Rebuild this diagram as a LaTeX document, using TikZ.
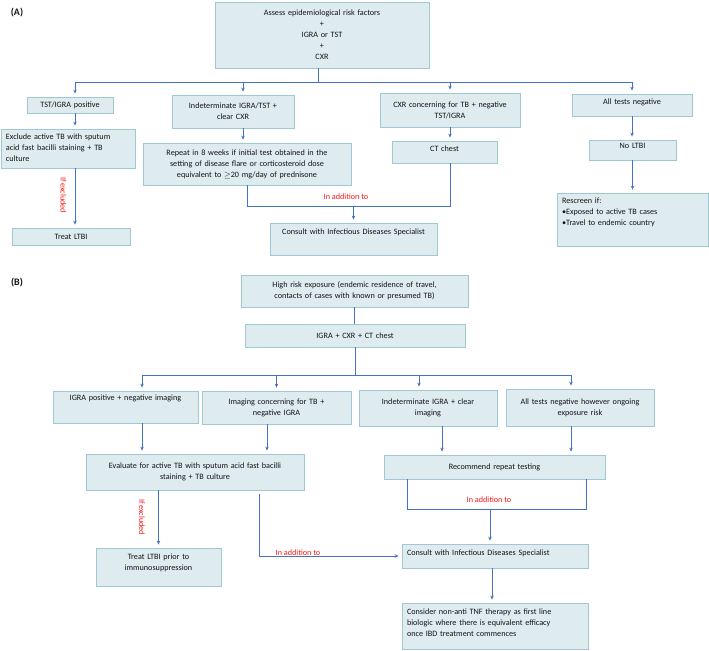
\documentclass[tikz,border=0pt]{standalone}
\usepackage{fontspec}
\setmainfont{Carlito}
\usepackage{tikz}
\usetikzlibrary{arrows.meta, positioning}
\definecolor{boxfill}{RGB}{222,235,239}
\definecolor{boxline}{RGB}{160,200,212}
\definecolor{linkblue}{RGB}{68,114,196}
\definecolor{notered}{RGB}{250,20,20}
\tikzset{
    box/.style={rectangle, draw=boxline, line width=0.8bp, fill=boxfill, align=center, inner xsep=5bp, inner ysep=2bp, text=black!92, font=\fontsize{8.2}{11}\selectfont},
    topbox/.style 2 args={box, text height=#1, text depth=#2},
    line/.style={linkblue, line width=0.9bp},
    arrow/.style={line, -{Stealth[length=4bp,width=3.5bp]}, shorten >=3bp},
    note/.style={text=notered, font=\fontsize{8.2}{9}\selectfont, inner sep=1bp},
    panel/.style={font=\fontsize{10}{12}\selectfont\bfseries, text=black!92},
}

\begin{document}
\begin{tikzpicture}[x=1bp,y=-1bp]
  \useasboundingbox (0,0) rectangle (709,651);

  % (A)
  \node[panel] (labA) at (17,13) {(A)};
  \node[box, text width=204bp, minimum height=66bp] (assess) at (322,35) {Assess epidemiological risk factors\\+\\IGRA or TST\\+\\CXR};
  \node[box, text width=76bp, minimum height=16bp] (pos) at (70,105) {TST/IGRA positive};
  \node[box, text width=112bp, minimum height=33bp] (indet) at (233,111.5) {Indeterminate IGRA/TST +\\clear CXR};
  \node[box, text width=130bp, minimum height=34bp] (cxr) at (450,110) {CXR concerning for TB + negative\\TST/IGRA};
  \node[topbox={8.5bp}{9.5bp}, text width=110bp] (allneg) at (632,105) {All tests negative};
  \node[topbox={8.5bp}{26.5bp}, text width=124bp, align=left] (exclude) at (68,148.5) {Exclude active TB with sputum\\acid fast bacilli staining + TB\\culture};
  \node[box, text width=198bp, minimum height=42bp] (repeat) at (247,164) {Repeat in 8 weeks if initial test obtained in the\\setting of disease flare or corticosteroid dose\\equivalent to $\geq$20 mg/day of prednisone};
  \node[topbox={8.5bp}{9.5bp}, text width=95bp] (ct) at (444.5,152) {CT chest};
  \node[topbox={6.5bp}{9.5bp}, text width=77bp] (noltbi) at (632.5,150) {No LTBI};
  \node[box, text width=108bp, minimum height=17bp] (treat) at (71,236.5) {Treat LTBI};
  \node[topbox={9.5bp}{18.5bp}, text width=157bp] (consultA) at (353.5,239) {Consult with Infectious Diseases Specialist};
  \node[topbox={8.5bp}{40.5bp}, text width=141bp, align=left] (rescreen) at (632.5,219.5) {Rescreen if:\\\textbullet Exposed to active TB cases\\\textbullet Travel to endemic country};
  \node[note, rotate=-90] (ifexA) at (63.5,195) {If excluded};
  \node[note] (addA) at (346,197) {In addition to};

  \coordinate (busA) at (318,82);
  \coordinate (dropP) at ([xshift=5bp]pos.north);
  \coordinate (dropI) at ([xshift=10bp]indet.north);
  \draw[line] (assess.south -| busA) -- (busA);
  \draw[line] (busA -| dropP) -- (busA -| allneg.north);
  \draw[arrow] (busA -| dropP) -- (dropP);
  \draw[arrow] (busA -| dropI) -- (dropI);
  \draw[arrow] (busA -| cxr.north) -- (cxr.north);
  \draw[arrow] (busA -| allneg.north) -- (allneg.north);
  \draw[arrow] (dropP |- pos.south) -- (dropP |- exclude.north);
  \draw[arrow] (dropI |- indet.south) -- (dropI |- repeat.north);
  \draw[arrow] (cxr.south) -- (cxr.south |- ct.north);
  \draw[arrow] (allneg.south) -- (allneg.south |- noltbi.north);
  \draw[arrow] (noltbi.south) -- (rescreen.north);
  \draw[arrow] (dropP |- exclude.south) -- (dropP |- treat.north);
  \draw[line] (repeat.south) -- ++(0,21) coordinate (joinA) -| (cxr.south |- ct.south);
  \draw[arrow] (joinA -| consultA.north) -- (consultA.north);

  % (B)
  \node[panel] (labB) at (17,283) {(B)};
  \node[box, text width=217bp, minimum height=32bp] (high) at (354.5,291) {High risk exposure (endemic residence of travel,\\contacts of cases with known or presumed TB)};
  \node[box, text width=210bp, minimum height=23bp] (tests) at (355,335.5) {IGRA + CXR + CT chest};
  \node[topbox={7.5bp}{20.5bp}, text width=135bp] (igrapos) at (125.5,407) {IGRA positive + negative imaging};
  \node[box, text width=139bp, minimum height=33bp] (imgconc) at (276.5,407.5) {Imaging concerning for TB +\\negative IGRA};
  \node[box, text width=128bp, minimum height=36bp] (indetB) at (428,408) {Indeterminate IGRA + clear\\imaging};
  \node[box, text width=138bp, minimum height=37bp] (allnegB) at (580,407.5) {All tests negative however ongoing\\exposure risk};
  \node[box, text width=208bp, minimum height=36bp] (evaluate) at (195,472) {Evaluate for active TB with sputum acid fast bacilli\\staining + TB culture};
  \node[box, text width=211bp, minimum height=24bp] (recommend) at (494.5,467) {Recommend repeat testing};
  \node[topbox={9.5bp}{24.5bp}, text width=115bp] (treatB) at (158.5,567) {Treat LTBI prior to\\immunosuppression};
  \node[topbox={9.5bp}{10.5bp}, text width=176bp, align=left] (consultB) at (495,556) {Consult with Infectious Diseases Specialist};
  \node[topbox={9.5bp}{32.5bp}, text width=176bp, align=left] (consider) at (495,626) {Consider non-anti TNF therapy as first line\\biologic where there is equivalent efficacy\\once IBD treatment commences};
  \node[note, rotate=-90] (ifexB) at (142,517) {If excluded};
  \node[note] (addB1) at (489,500) {In addition to};
  \node[note] (addB2) at (298,553) {In addition to};

  \coordinate (busB) at (355,375);
  \coordinate (dropG) at ([xshift=16.5bp]igrapos.north);
  \coordinate (dropD) at ([xshift=-9bp]indetB.north);
  \coordinate (dropN) at ([xshift=-9bp]allnegB.north);
  \coordinate (outC) at ([xshift=-9.5bp]imgconc.south);
  \coordinate (outD) at ([xshift=14bp]indetB.south);
  \coordinate (inB) at ([xshift=-5bp]consultB.north);
  \draw[line] (high.south) -- (high.south |- tests.north);
  \draw[line] (tests.south) -- (tests.south |- busB);
  \draw[line] (busB -| dropG) -- (busB -| dropN);
  \draw[arrow] (busB -| dropG) -- (dropG);
  \draw[arrow] (busB -| imgconc.north) -- (imgconc.north);
  \draw[arrow] (busB -| dropD) -- (dropD);
  \draw[arrow] (busB -| dropN) -- (dropN);
  \draw[arrow] (dropG |- igrapos.south) -- (dropG |- evaluate.north);
  \draw[arrow] (outC) -- (outC |- evaluate.north);
  \draw[arrow] (outD) -- (outD |- recommend.north);
  \draw[arrow] (dropN |- allnegB.south) -- (dropN |- recommend.north);
  \draw[arrow] (treatB.north |- evaluate.south) -- (treatB.north);
  \draw[arrow, shorten <=4bp] ([xshift=64bp]evaluate.south) |- (consultB.west);
  \draw[line] ([xshift=-87.5bp]recommend.south) -- ++(0,30) coordinate (joinB) -| ([xshift=91.5bp]recommend.south);
  \draw[arrow] (joinB -| inB) -- (inB);
  \draw[arrow] ([xshift=-3bp]consultB.south) -- ([xshift=-3bp]consider.north);
\end{tikzpicture}
\end{document}
